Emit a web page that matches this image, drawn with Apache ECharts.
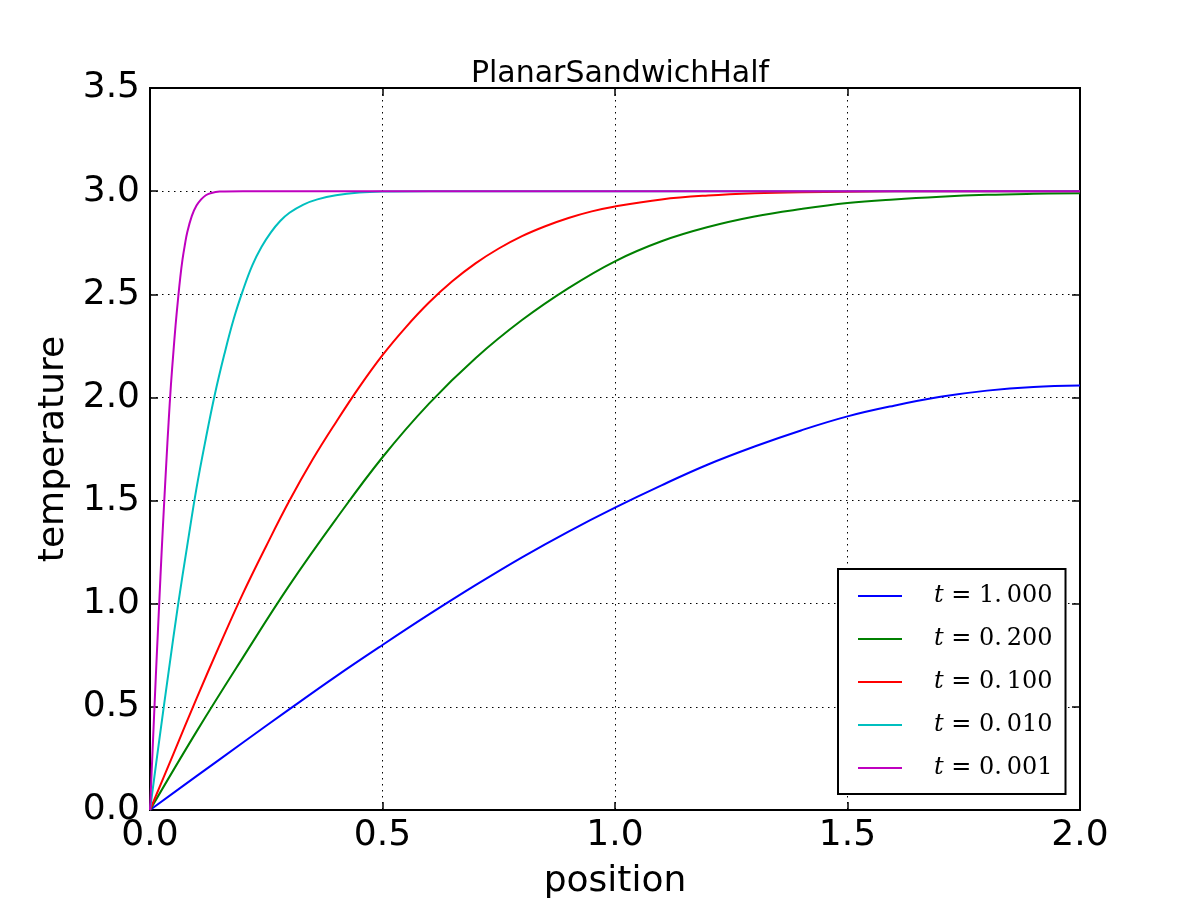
<!DOCTYPE html>
<html>
<head>
<meta charset="utf-8">
<script src="https://cdn.jsdelivr.net/npm/echarts@6/dist/echarts.min.js"></script>
<style>
  html, body { margin: 0; padding: 0; background: #fff; }
  #chart { width: 1200px; height: 900px; }
</style>
</head>
<body>
<div id="chart"></div>
<script>
// values
const bluePos = [0, 0.1, 0.2, 0.3, 0.4, 0.5, 0.6, 0.7, 0.8, 0.9, 1.0, 1.1, 1.2, 1.3, 1.4, 1.5, 1.6, 1.7, 1.8, 1.9, 2.0];
const blueTemp = [0, 0.164, 0.327, 0.489, 0.648, 0.800, 0.948, 1.090, 1.225, 1.350, 1.466, 1.574, 1.675, 1.762, 1.840, 1.908, 1.960, 2.003, 2.033, 2.051, 2.058];

const greenPos = [0, 0.1, 0.2, 0.3, 0.4, 0.5, 0.6, 0.7, 0.8, 0.9, 1.0, 1.1, 1.2, 1.3, 1.4, 1.5, 1.6, 1.7, 1.8, 1.9, 2.0];
const greenTemp = [0, 0.38, 0.74, 1.09, 1.41, 1.71, 1.97, 2.19, 2.375, 2.53, 2.66, 2.757, 2.826, 2.877, 2.913, 2.942, 2.96, 2.973, 2.982, 2.987, 2.99];

const redPos = [0, 0.05, 0.1, 0.15, 0.2, 0.25, 0.3, 0.35, 0.4, 0.45, 0.5, 0.55, 0.6, 0.65, 0.7, 0.75, 0.8, 0.85, 0.9, 0.95, 1.0, 1.1, 1.2, 1.3, 1.4, 1.6, 1.8, 2.0];
const redTemp = [0, 0.27, 0.54, 0.80, 1.05, 1.28, 1.50, 1.70, 1.88, 2.05, 2.205, 2.34, 2.46, 2.563, 2.65, 2.722, 2.782, 2.83, 2.87, 2.902, 2.926, 2.960, 2.979, 2.99, 2.995, 2.999, 3.0, 3.0];

const cyanPos = [0, 0.02, 0.04, 0.06, 0.08, 0.10, 0.12, 0.14, 0.16, 0.18, 0.20, 0.22, 0.24, 0.26, 0.28, 0.30, 0.33, 0.36, 0.40, 0.45, 0.50, 0.60, 1.0, 2.0];
const cyanTemp = [0, 0.34, 0.67, 0.99, 1.28, 1.56, 1.80, 2.02, 2.21, 2.38, 2.52, 2.64, 2.73, 2.80, 2.855, 2.895, 2.935, 2.96, 2.98, 2.993, 2.998, 3.0, 3.0, 3.0];

const magentaPos = [0, 0.005, 0.01, 0.015, 0.02, 0.025, 0.03, 0.035, 0.04, 0.045, 0.05, 0.055, 0.06, 0.065, 0.07, 0.075, 0.08, 0.09, 0.10, 0.11, 0.12, 0.13, 0.15, 0.2, 1.0, 2.0];
const magentaTemp = [0, 0.26, 0.52, 0.77, 1.01, 1.25, 1.47, 1.68, 1.88, 2.06, 2.21, 2.35, 2.47, 2.58, 2.67, 2.74, 2.80, 2.88, 2.93, 2.96, 2.98, 2.99, 2.998, 3.0, 3.0, 3.0];

const seriesNames = ['t = 1.000', 't = 0.200', 't = 0.100', 't = 0.010', 't = 0.001'];
const seriesColors = ['#0000ff', '#008000', '#ff0000', '#00bfbf', '#bf00bf'];
const seriesPos = [bluePos, greenPos, redPos, cyanPos, magentaPos];
const seriesTemp = [blueTemp, greenTemp, redTemp, cyanTemp, magentaTemp];

const FONT = 'DejaVu Sans';

const chart = echarts.init(document.getElementById('chart'), null, { renderer: 'canvas' });

const tickStyle = { show: true, inside: true, length: 8, lineStyle: { color: '#000', width: 1.5 } };
const lineStyle = { show: true, onZero: false, lineStyle: { color: '#000', width: 2 } };
const gridLine = { show: true, lineStyle: { color: '#000', width: 1, type: [1.5, 4.5] } };

chart.setOption({
  animation: false,
  backgroundColor: '#fff',
  title: {
    text: 'PlanarSandwichHalf',
    left: 615,
    textAlign: 'center',
    top: 54,
    textStyle: { fontFamily: FONT, fontSize: 30, fontWeight: 'normal', color: '#000' }
  },
  grid: {
    left: 150, right: 120, top: 88, bottom: 90,
    outerBoundsMode: 'none',
    containLabel: false,
    show: true, borderColor: '#000', borderWidth: 2
  },
  legend: {
    orient: 'vertical',
    left: 838,
    top: 569,
    icon: 'rect',
    itemWidth: 44,
    itemHeight: 2,
    itemGap: 19,
    padding: [15, 13, 14, 20],
    backgroundColor: '#fff',
    borderColor: '#000',
    borderWidth: 2,
    borderRadius: 0,
    data: seriesNames,
    formatter: function (name) {
      const v = name.split('= ')[1].replace('.', '.\u2009');
      return '{i|t}{n| = ' + v + '}';
    },
    textStyle: {
      padding: [0, 0, 0, 27],
      rich: {
        i: { fontFamily: 'DejaVu Serif', fontStyle: 'italic', fontSize: 24, color: '#000' },
        n: { fontFamily: 'DejaVu Serif', fontSize: 24, color: '#000' }
      }
    }
  },
  xAxis: [{
    type: 'value',
    min: 0, max: 2, interval: 0.5,
    name: 'position',
    nameLocation: 'middle',
    nameGap: 54,
    nameTextStyle: { fontFamily: FONT, fontSize: 36, color: '#000' },
    axisLine: lineStyle,
    axisTick: tickStyle,
    axisLabel: { fontFamily: FONT, fontSize: 36, color: '#000', margin: 8, formatter: v => v.toFixed(1) },
    splitLine: gridLine
  }, {
    type: 'value',
    position: 'top',
    min: 0, max: 2, interval: 0.5,
    axisLine: lineStyle,
    axisTick: tickStyle,
    axisLabel: { show: false },
    splitLine: { show: false }
  }],
  yAxis: [{
    type: 'value',
    min: 0, max: 3.5, interval: 0.5,
    name: 'temperature',
    nameLocation: 'middle',
    nameGap: 78,
    nameTextStyle: { fontFamily: FONT, fontSize: 36, color: '#000' },
    axisLine: lineStyle,
    axisTick: tickStyle,
    axisLabel: { fontFamily: FONT, fontSize: 36, color: '#000', margin: 10, formatter: v => v.toFixed(1) },
    splitLine: gridLine
  }, {
    type: 'value',
    position: 'right',
    min: 0, max: 3.5, interval: 0.5,
    axisLine: lineStyle,
    axisTick: tickStyle,
    axisLabel: { show: false },
    splitLine: { show: false }
  }],
  series: seriesNames.map((name, i) => ({
    name: name,
    type: 'line',
    xAxisIndex: 0,
    yAxisIndex: 0,
    data: seriesPos[i].map((x, j) => [x, seriesTemp[i][j]]),
    showSymbol: false,
    symbol: 'none',
    smooth: 0.4,
    clip: true,
    lineStyle: { color: seriesColors[i], width: 2 },
    itemStyle: { color: seriesColors[i] },
    z: 2 + i
  }))
});
</script>
</body>
</html>
